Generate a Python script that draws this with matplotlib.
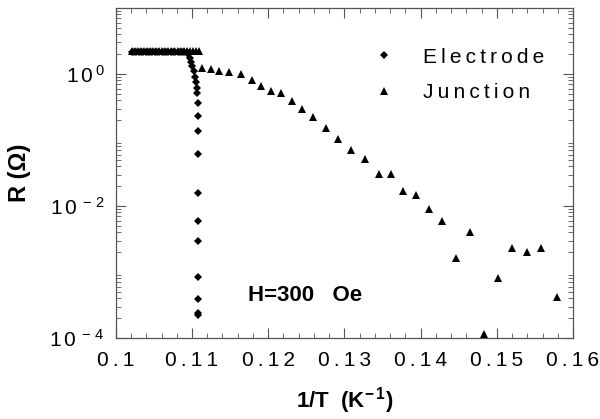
import matplotlib
matplotlib.use("Agg")
import matplotlib.pyplot as plt
from matplotlib.ticker import LogLocator, MultipleLocator

plt.rcParams['font.family'] = ['Liberation Sans', 'DejaVu Sans']
plt.rcParams['mathtext.default'] = 'regular'

# Electrode: plateau, bend, then vertical drop
elec_x = [0.1021, 0.1024, 0.1027, 0.1030, 0.1033, 0.1036, 0.1039, 0.1042, 0.1045,
          0.1048, 0.1051, 0.1054, 0.1057, 0.1060, 0.1063, 0.1066, 0.1069, 0.1072,
          0.1075, 0.1078, 0.1081, 0.1084, 0.1087, 0.1090, 0.1093,
          0.1095, 0.1097, 0.1099, 0.1100, 0.1102, 0.1104, 0.1105, 0.1106, 0.1107,
          0.1108, 0.1108, 0.1108, 0.1108, 0.1108, 0.1108, 0.1108, 0.1108, 0.1108,
          0.1108, 0.1108]
elec_r = [2.15, 2.15, 2.15, 2.15, 2.15, 2.15, 2.15, 2.15, 2.15,
          2.15, 2.15, 2.15, 2.15, 2.15, 2.15, 2.15, 2.15, 2.15,
          2.15, 2.15, 2.15, 2.15, 2.15, 2.15, 2.15,
          2.0, 1.75, 1.5, 1.3, 1.1, 0.9, 0.75, 0.62, 0.52,
          0.366, 0.233, 0.139, 0.0605, 0.0157, 0.00594, 0.00298, 8.55e-4, 3.86e-4,
          2.38e-4, 2.22e-4]

# Junction
junc_x = [0.1021, 0.1025, 0.1029, 0.1033, 0.1037, 0.1041, 0.1045, 0.1049, 0.1053,
          0.1057, 0.1061, 0.1065, 0.1069, 0.1073, 0.1077, 0.1081, 0.1085, 0.1089,
          0.1093, 0.1097, 0.1101, 0.1105, 0.1109,
          0.11135, 0.11252, 0.11356, 0.11487, 0.11643, 0.11787, 0.11904, 0.12035,
          0.12165, 0.12309, 0.12439, 0.12583, 0.12752, 0.12922, 0.13091, 0.13274,
          0.13456, 0.13613, 0.13769, 0.13939, 0.14109, 0.14278, 0.14461, 0.14643,
          0.14826, 0.15021, 0.15204, 0.15400, 0.15582, 0.15791]
junc_r = [2.25, 2.25, 2.25, 2.25, 2.25, 2.25, 2.25, 2.25, 2.25,
          2.25, 2.25, 2.25, 2.25, 2.25, 2.25, 2.25, 2.25, 2.25,
          2.25, 2.25, 2.25, 2.25, 2.25,
          1.23, 1.19, 1.11, 1.07, 1.0, 0.81, 0.66, 0.55,
          0.52, 0.39, 0.29, 0.22, 0.154, 0.105, 0.0695, 0.0509,
          0.0303, 0.0303, 0.0168, 0.0146, 0.0090, 0.0059, 0.00165, 0.00406,
          1.15e-4, 8.0e-4, 0.00233, 0.00203, 0.00233, 4.14e-4]

x_ticks = [0.10, 0.11, 0.12, 0.13, 0.14, 0.15, 0.16]
x_tick_labels = ['0.1', '0.11', '0.12', '0.13', '0.14', '0.15', '0.16']
y_ticks = [1e-4, 1e-2, 1e0]
y_tick_labels = [r'$1\,0^{\,-\,4}$', r'$1\,0^{\,-\,2}$', r'$1\,0^{\,0}$']


def spaced(s):
    # the original typesetting is letter-spaced
    return '\u2009'.join(s)


fig = plt.figure(figsize=(6.0, 4.19), dpi=100)
ax = fig.add_axes([0.193, 0.193, 0.762, 0.788])

ax.plot(elec_x, elec_r, 'D', color='black', markersize=4.5, markeredgewidth=0, label=spaced('Electrode'))
ax.plot(junc_x, junc_r, '^', color='black', markersize=6, markeredgewidth=0, label=spaced('Junction'))

ax.set_yscale('log')
ax.set_xticks(x_ticks)
ax.set_xticklabels([spaced(t) for t in x_tick_labels])
ax.xaxis.set_minor_locator(MultipleLocator(0.002))
ax.set_yticks(y_ticks)
ax.set_yticklabels(y_tick_labels)
ax.yaxis.set_minor_locator(LogLocator(base=10, subs=range(2, 10), numticks=20))
ax.set_xlim(0.1, 0.16)
ax.set_ylim(1e-4, 10)

ax.tick_params(which='both', direction='in', top=True, right=True, colors='#555555', labelcolor='black')
ax.tick_params(axis='x', labelsize=15, pad=9)
ax.tick_params(axis='y', labelsize=15, pad=8)
ax.tick_params(which='major', length=7, width=0.8)
ax.tick_params(which='minor', length=3.5, width=0.6)
for s in ax.spines.values():
    s.set_color('#555555')
    s.set_linewidth(0.9)

ax.set_xlabel(r'1/T  (K$^{-\,1}$)', fontsize=16, fontweight='bold', labelpad=11)
ax.set_ylabel('R (\u03A9)', fontsize=17, fontweight='bold', labelpad=13)

ax.text(0.1173, 0.00036, 'H=300   Oe', fontsize=16, fontweight='bold')

ax.legend(loc='upper left', bbox_to_anchor=(0.545, 0.905), frameon=False, fontsize=15,
          handlelength=1.0, handletextpad=1.4, borderaxespad=0.0, labelspacing=0.8,
          markerscale=0.9)

fig.savefig('out.png', dpi=100)
